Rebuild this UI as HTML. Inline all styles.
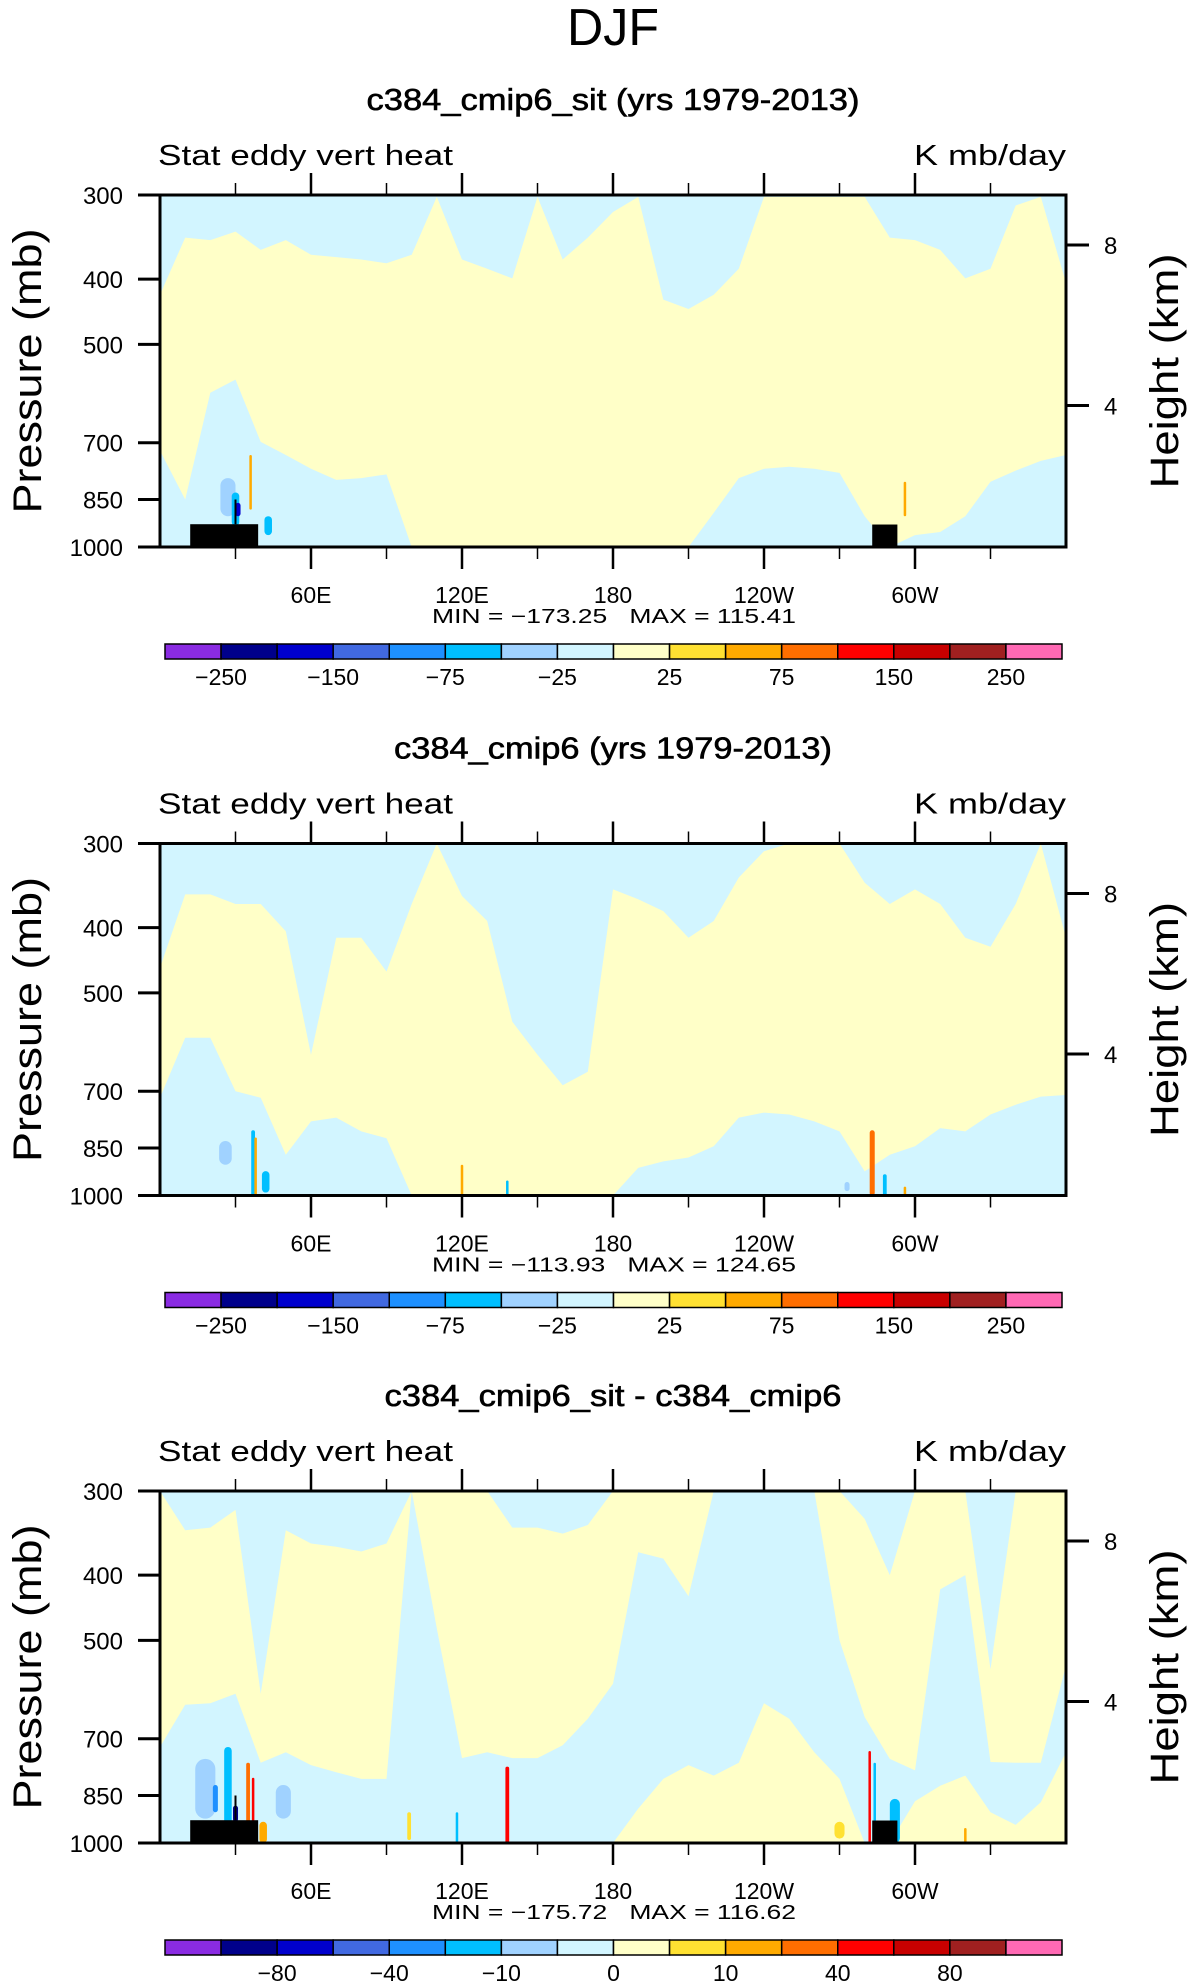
<!DOCTYPE html>
<html><head><meta charset="utf-8">
<style>
html,body{margin:0;padding:0;background:#fff;}
svg{display:block;}
text{font-family:"Liberation Sans",sans-serif;fill:#000;}
</style></head>
<body>
<svg id="chart" width="1190" height="1987" viewBox="0 0 1190 1987" xmlns="http://www.w3.org/2000/svg">
<text x="613" y="45" font-size="52" text-anchor="middle" textLength="92" lengthAdjust="spacingAndGlyphs" style="font-weight:300">DJF</text>
</svg>
<script>
// ---- data ----
const lons = [0,10,20,30,40,50,60,70,80,90,100,110,120,130,140,150,160,170,180,190,200,210,220,230,240,250,260,270,280,290,300,310,320,330,340,350,360];
const p1Top = [422,347,350,340,362,350,368,371,374,379,368,302,374,386,399,302,374,347,318,302,429,443,422,386,302,302,302,302,302,347,350,362,399,386,311,302,405];
const p1Bot = [719,850,590,564,698,730,765,795,790,780,1000,1000,1000,1000,1000,1000,1000,1000,1000,1000,1000,1000,890,790,765,760,765,776,900,1000,960,950,900,800,770,745,730];
const p1Low = [1000,1000,1000,1000,1000,1000,1000,1000,1000,1000,1000,1000,1000,1000,1000,1000,1000,1000,1000,1000,1000,1000,1000,1000,1000,1000,1000,1000,1000,1000,1000,1000,1000,1000,1000,1000,1000];
const p2Top = [459,357,357,369,369,405,618,414,414,465,369,300,359,391,552,618,686,655,351,363,378,414,391,337,308,300,300,300,343,369,351,369,414,427,369,300,414];
const p2Bot = [716,583,583,700,716,870,776,766,803,822,1000,1000,1000,1000,1000,1000,1000,1000,1000,910,890,878,845,766,753,758,776,803,921,870,845,794,803,758,733,713,709];
const p2Low = [1000,1000,1000,1000,1000,1000,1000,1000,1000,1000,1000,1000,1000,1000,1000,1000,1000,1000,1000,1000,1000,1000,1000,1000,1000,1000,1000,1000,1000,1000,1000,1000,1000,1000,1000,1000,1000];
const p3Top = [300,343,340,320,600,343,359,363,369,359,300,300,300,300,340,340,347,337,300,300,300,300,300,300,300,300,300,300,330,400,300,300,300,552,300,300,300];
const p3Bot = [720,623,620,600,760,733,766,785,803,803,300,480,748,733,748,748,716,654,580,370,378,430,300,300,300,300,300,500,650,750,780,420,400,758,760,760,545];
const p3Low = [1000,1000,1000,1000,1000,1000,1000,1000,1000,1000,1000,1000,1000,1000,1000,1000,1000,1000,1000,889,803,766,794,760,620,654,733,803,1000,1000,867,822,794,900,940,870,733];
// features: lon, pTop, pBot, color index, width (deg)
const f1Lon = [27,30,31,36,43,296];
const f1Top = [790,830,860,730,900,800];
const f1Bot = [900,930,900,880,960,900];
const f1Col = [6,5,2,10,5,10];
const f1Wid = [6,3,2,1,3,1];
const f2Lon = [26,37,38,42,120,138,273,283,288,296];
const f2Top = [830,800,820,920,900,950,955,800,930,970];
const f2Bot = [900,1000,1000,990,1000,1000,985,1000,1000,1000];
const f2Col = [6,5,10,5,10,5,6,11,5,10];
const f2Wid = [5,1.5,1,3,1,1,2,2,1.5,1];
const f3Lon = [18,22,27,30,35,37,41,49,99,118,138,270,282,284,292,320];
const f3Top = [750,820,720,880,760,800,930,820,900,900,770,930,730,760,860,950];
const f3Bot = [920,900,1000,930,1000,1000,1000,920,990,1000,1000,985,1000,1000,1000,1000];
const f3Col = [6,4,5,1,11,12,10,6,9,5,12,9,12,5,5,10];
const f3Wid = [8,2,3,2,1.5,1,3,6,1.5,1,1.5,4,1,1,4,1];
const boxLon0 = [12,283];
const boxLon1 = [39,293];
const boxTopP = [925,926];
const pressTicks = [300,400,500,700,850,1000];
const heightTicks = [8,4];
const lonMajor = [60,120,180,240,300];
const lonMajorLbl = ["60E","120E","180","120W","60W"];
const lonMinor = [30,90,150,210,270,330];
const palette = ["#8a2be2","#00008b","#0000cd","#4169e1","#1e90ff","#00bfff","#a0d2ff","#d2f5ff","#ffffc8","#ffe132","#ffaa00","#ff6e00","#ff0000","#c80000","#a02020","#ff69b4"];
const cbLabels12 = ["-250","","-150","","-75","","-25","","25","","75","","150","","250"];
const cbLabels3 = ["","-80","","-40","","-10","","0","","10","","40","","80",""];
const titles = ["c384_cmip6_sit (yrs 1979-2013)","c384_cmip6 (yrs 1979-2013)","c384_cmip6_sit - c384_cmip6"];
const titleLen = [493,438,457];
const minmax = ["MIN = \u2212173.25   MAX = 115.41","MIN = \u2212113.93   MAX = 124.65","MIN = \u2212175.72   MAX = 116.62"];

// ---- drawing ----
const svg = document.getElementById('chart');
const NS = "http://www.w3.org/2000/svg";
const L = 160, R = 1066, H = 352;
function X(lon){ return L + lon/360*(R-L); }
function Yp(p, top){ return top + H*Math.log(p/300)/Math.log(1000/300); }
function zToP(km){ return 1013.25*Math.pow(1-2.25577e-5*km*1000,5.25588); }
function mk(tag, attrs, parent){
  const e = document.createElementNS(NS, tag);
  for (const k in attrs) e.setAttribute(k, attrs[k]);
  (parent||svg).appendChild(e);
  return e;
}

const panels = [
  {top:195, tp:p1Top, bt:p1Bot, lw:p1Low, fl:f1Lon, ft:f1Top, fb:f1Bot, fc:f1Col, fw:f1Wid, boxes:true, cb:cbLabels12},
  {top:843.5, tp:p2Top, bt:p2Bot, lw:p2Low, fl:f2Lon, ft:f2Top, fb:f2Bot, fc:f2Col, fw:f2Wid, boxes:false, cb:cbLabels12},
  {top:1491, tp:p3Top, bt:p3Bot, lw:p3Low, fl:f3Lon, ft:f3Top, fb:f3Bot, fc:f3Col, fw:f3Wid, boxes:true, cb:cbLabels3}
];

panels.forEach((pn, i) => {
  const top = pn.top, off = top - 195;
  const g = mk('g', {});
  
  

  const t = mk('text', {x:613, y:110+off, 'font-size':31, 'text-anchor':'middle', textLength:titleLen[i], lengthAdjust:'spacingAndGlyphs', style:'font-weight:normal;stroke:#000;stroke-width:0.6'}, g);
  t.textContent = titles[i];
  
  

  const lt = mk('text', {x:158, y:165+off, 'font-size':29, textLength:295, lengthAdjust:'spacingAndGlyphs', style:'font-weight:300'}, g);
  lt.textContent = 'Stat eddy vert heat';
  
  
  const rt = mk('text', {x:1066, y:165+off, 'font-size':29, 'text-anchor':'end', textLength:152, lengthAdjust:'spacingAndGlyphs', style:'font-weight:300'}, g);
  rt.textContent = 'K mb/day';
  
  

  const clip = mk('clipPath', {id:'clip'+i}, g);
  mk('rect', {x:L, y:top, width:R-L, height:H}, clip);
  const field = mk('g', {'clip-path':'url(#clip'+i+')'}, g);
  
  
  const bg = mk('rect', {x:L, y:top, width:R-L, height:H, fill:palette[7]}, field);
  
  

  let pts = [];
  lons.forEach((lo, k) => pts.push(X(lo).toFixed(1)+','+Yp(pn.tp[k], top).toFixed(1)));
  for (let k = lons.length-1; k >= 0; k--) pts.push(X(lons[k]).toFixed(1)+','+Yp(pn.bt[k], top).toFixed(1));
  const band = mk('polygon', {points:pts.join(' '), fill:palette[8]}, field);
  
  

  pts = [];
  lons.forEach((lo, k) => pts.push(X(lo).toFixed(1)+','+Yp(pn.lw[k], top).toFixed(1)));
  pts.push(X(360)+','+(top+H)); pts.push(X(0)+','+(top+H));
  const low = mk('polygon', {points:pts.join(' '), fill:palette[8]}, field);
  
  

  pn.fl.forEach((lo, k) => {
    const y0 = Yp(pn.ft[k], top), y1 = Yp(pn.fb[k], top);
    const w = pn.fw[k]/360*(R-L);
    const r = mk('rect', {x:X(lo)-w/2, y:y0, width:w, height:y1-y0, rx:w/2, fill:palette[pn.fc[k]]}, field);
    
    
  });

  if (pn.boxes) {
    boxLon0.forEach((lo, k) => {
      const y0 = Yp(boxTopP[k], top);
      const b = mk('rect', {x:X(lo), y:y0, width:X(boxLon1[k])-X(lo), height:top+H-y0, fill:'#000'}, field);
      
      
    });
    const ln = mk('line', {x1:X(30), x2:X(30), y1:Yp(850,top), y2:Yp(925,top), stroke:'#000', 'stroke-width':2}, field);
    
    
  }

  const fr = mk('rect', {x:L, y:top, width:R-L, height:H, fill:'none', stroke:'#000', 'stroke-width':3}, g);
  
  

  pressTicks.forEach(p => {
    const y = Yp(p, top);
    const tk = mk('line', {x1:138, x2:L, y1:y, y2:y, stroke:'#000', 'stroke-width':3}, g);
    
    
    const tl = mk('text', {x:123, y:y+9, 'font-size':24, 'text-anchor':'end', style:'font-weight:300'}, g);
    tl.textContent = p;
    
    
  });
  heightTicks.forEach(hk => {
    const y = Yp(zToP(hk), top);
    const tk = mk('line', {x1:R, x2:1089, y1:y, y2:y, stroke:'#000', 'stroke-width':3}, g);
    
    
    const tl = mk('text', {x:1104, y:y+9, 'font-size':24, style:'font-weight:300'}, g);
    tl.textContent = hk;
    
    
  });
  lonMajor.forEach((lo, k) => {
    const x = X(lo);
    const a = mk('line', {x1:x, x2:x, y1:top-22, y2:top, stroke:'#000', 'stroke-width':2.5}, g);
    
    
    const b = mk('line', {x1:x, x2:x, y1:top+H, y2:top+H+22, stroke:'#000', 'stroke-width':2.5}, g);
    
    
    const tl = mk('text', {x:x, y:603+off, 'font-size':23, 'text-anchor':'middle', style:'font-weight:300'}, g);
    tl.textContent = lonMajorLbl[k];
    
    
  });
  lonMinor.forEach(lo => {
    const x = X(lo);
    const a = mk('line', {x1:x, x2:x, y1:top-12, y2:top, stroke:'#000', 'stroke-width':1.5}, g);
    
    
    const b = mk('line', {x1:x, x2:x, y1:top+H, y2:top+H+12, stroke:'#000', 'stroke-width':1.5}, g);
    
    
  });

  const yl = mk('text', {transform:'translate(41,'+(371+off)+') rotate(-90)', 'font-size':40, 'text-anchor':'middle', textLength:285, lengthAdjust:'spacingAndGlyphs', style:'font-weight:300'}, g);
  yl.textContent = 'Pressure (mb)';
  
  
  const hl = mk('text', {transform:'translate(1178,'+(371+off)+') rotate(-90)', 'font-size':40, 'text-anchor':'middle', textLength:235, lengthAdjust:'spacingAndGlyphs', style:'font-weight:300'}, g);
  hl.textContent = 'Height (km)';
  
  

  const mm = mk('text', {x:614, y:623+off, 'font-size':20, 'text-anchor':'middle', textLength:364, lengthAdjust:'spacingAndGlyphs', style:'font-weight:300;white-space:pre'}, g);
  mm.textContent = minmax[i];
  
  

  const cbw = (1062-165)/16;
  palette.forEach((c, k) => {
    const r = mk('rect', {x:165+k*cbw, y:644+off, width:cbw, height:15, fill:c, stroke:'#000', 'stroke-width':1.5}, g);
    
    
  });
  pn.cb.forEach((lb, k) => {
    if (!lb) return;
    const tl = mk('text', {x:165+(k+1)*cbw, y:685+off, 'font-size':23, 'text-anchor':'middle', style:'font-weight:300'}, g);
    tl.textContent = lb.replace('-', '\u2212');
    
    
  });
});
</script>
</body></html>
